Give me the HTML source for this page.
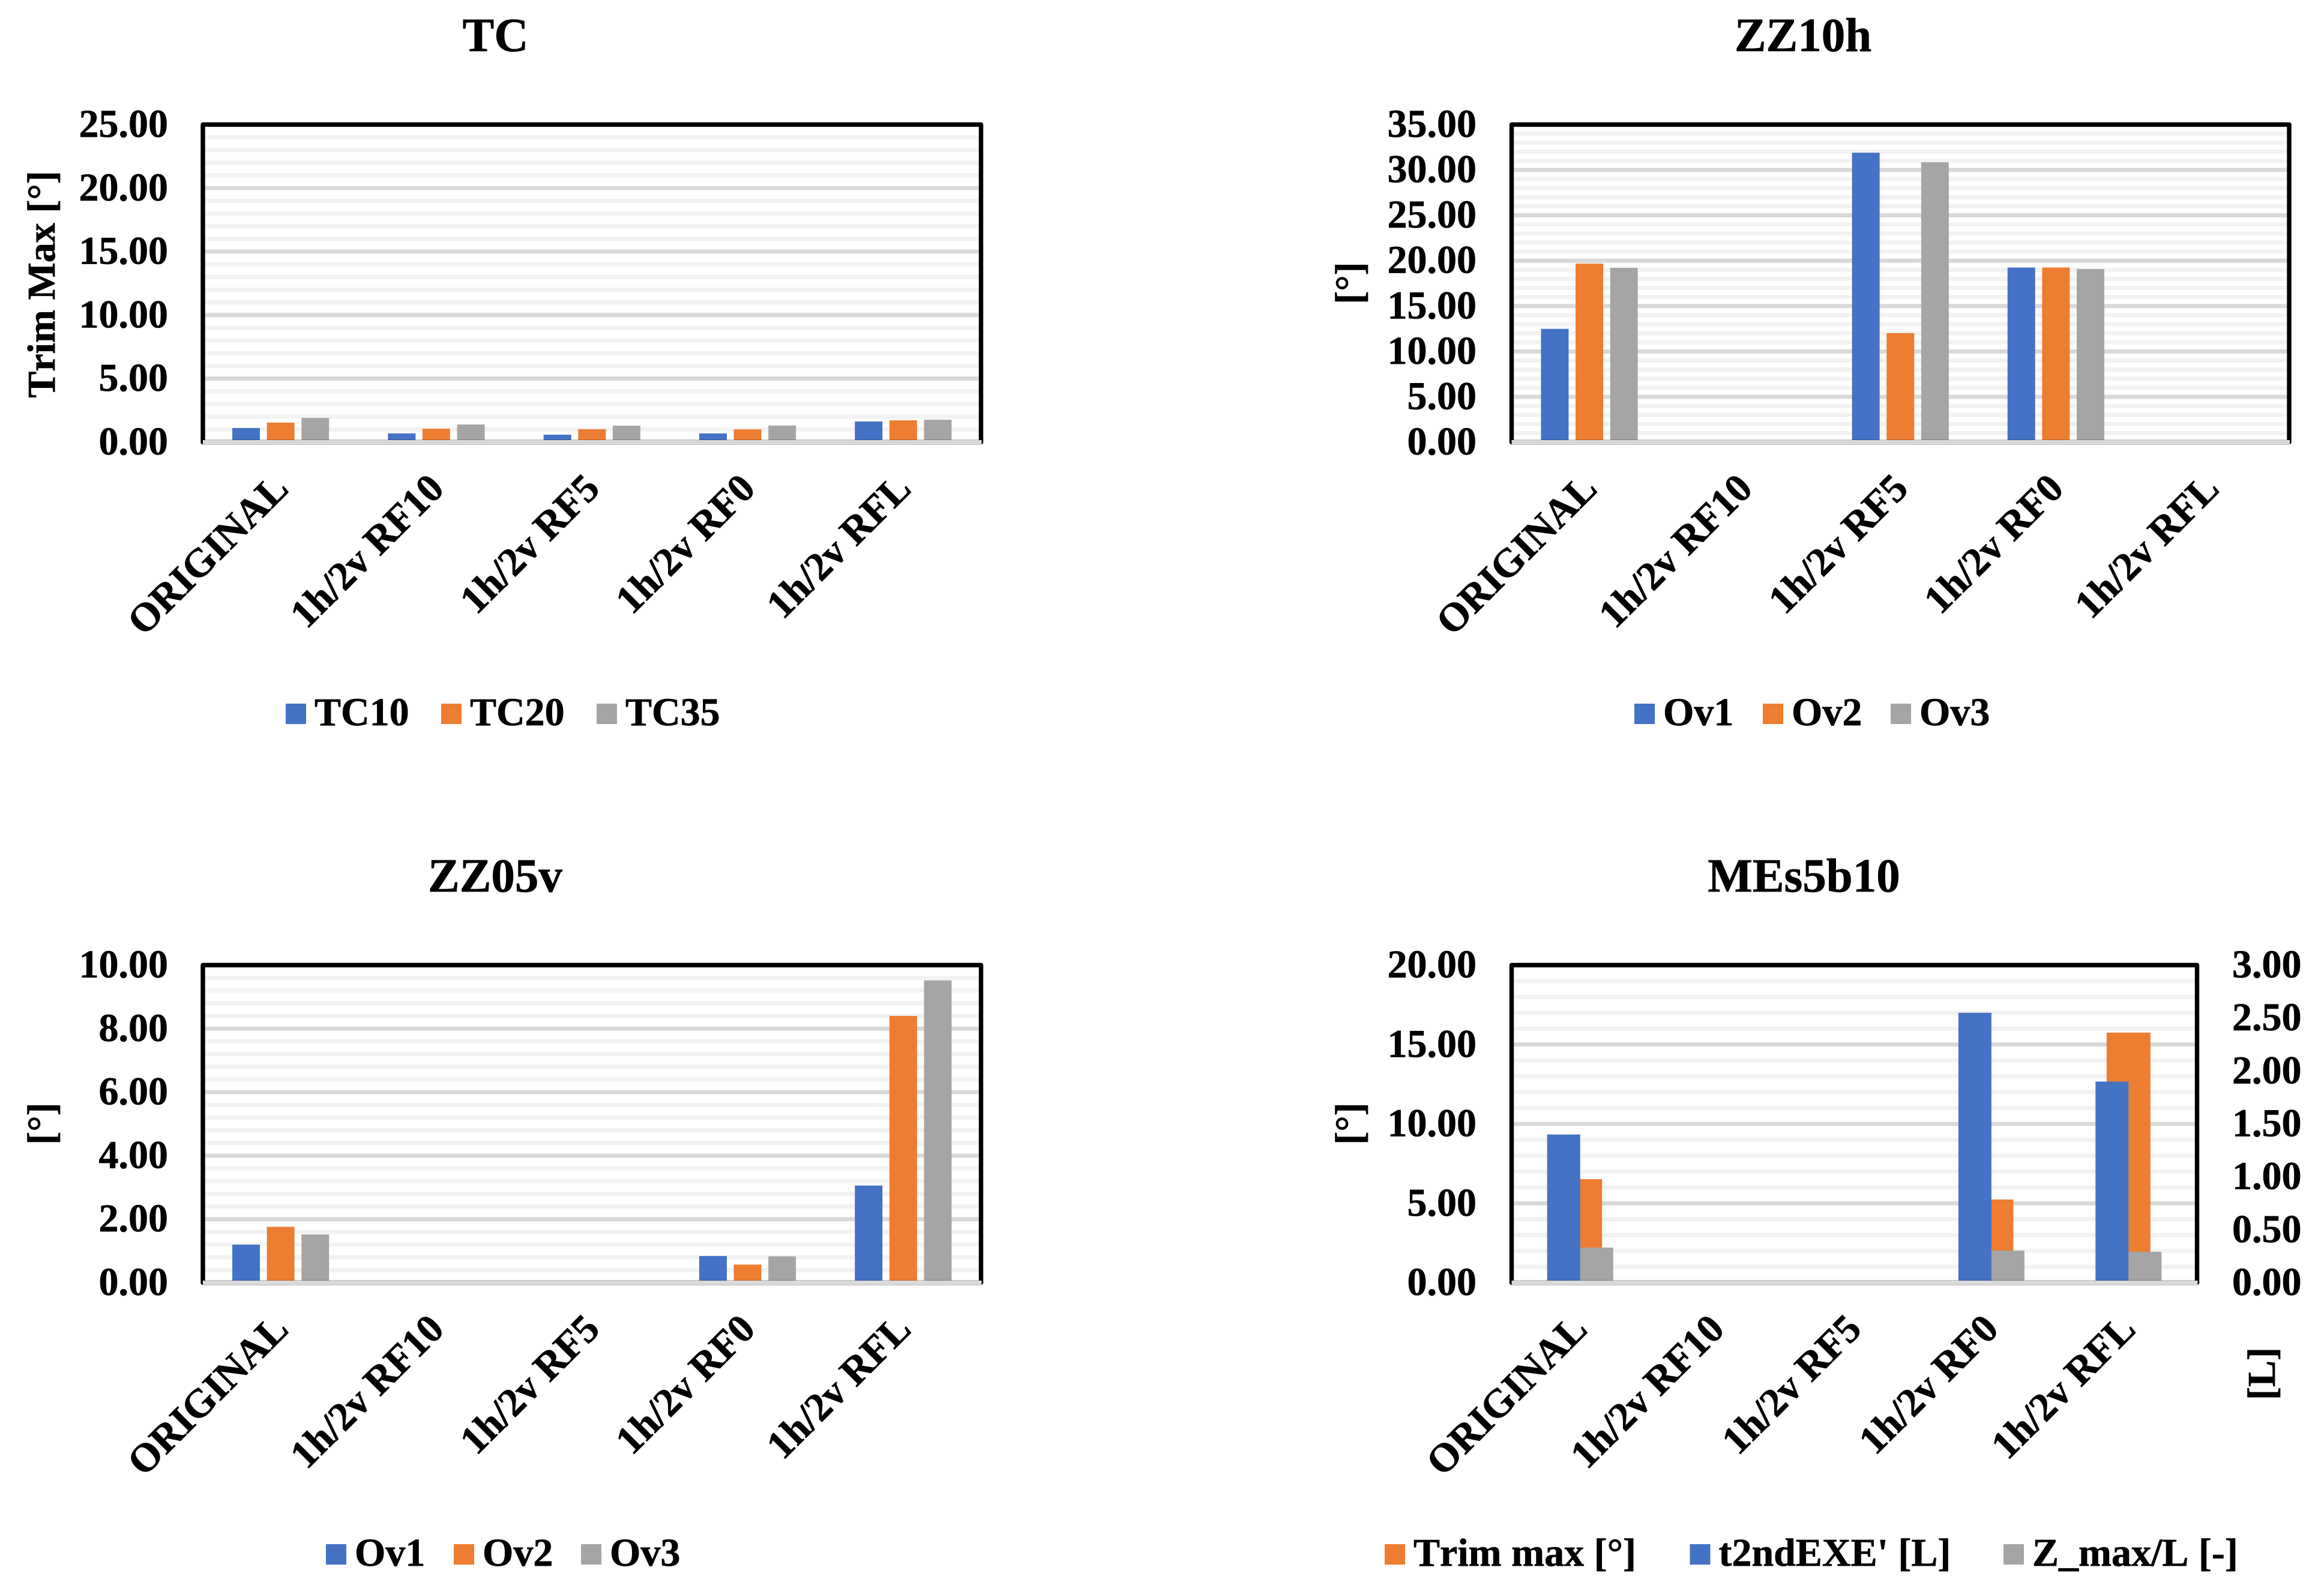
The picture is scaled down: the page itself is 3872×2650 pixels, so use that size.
<!DOCTYPE html>
<html lang="en">
<head>
<meta charset="utf-8">
<title>Trim comparison charts</title>
<style>
  html, body { margin: 0; padding: 0; background: #ffffff; }
  #figure { display: block; width: 3872px; height: 2650px; }
  text { font-family: "Liberation Serif", "Times New Roman", serif; font-weight: bold; fill: #000000; stroke: #000000; stroke-width: 0.7px; font-kerning: none; }
</style>
</head>
<body>
<svg id="figure" xmlns="http://www.w3.org/2000/svg" width="3872" height="2650" viewBox="0 0 3872 2650"></svg>
<script>
// ---------- Data ----------
const categories = ["ORIGINAL", "1h/2v RF10", "1h/2v RF5", "1h/2v RF0", "1h/2v RFL"];

const tc10 = [1.11, 0.69, 0.59, 0.69, 1.63];
const tc20 = [1.54, 1.06, 1.02, 1.01, 1.72];
const tc35 = [1.91, 1.39, 1.30, 1.31, 1.77];
const tcTicks = ["0.00", "5.00", "10.00", "15.00", "20.00", "25.00"];

const zz10hOv1 = [12.49, null, 31.90, 19.25, null];
const zz10hOv2 = [19.68, null, 12.02, 19.25, null];
const zz10hOv3 = [19.22, null, 30.85, 19.08, null];
const zz10hTicks = ["0.00", "5.00", "10.00", "15.00", "20.00", "25.00", "30.00", "35.00"];

const zz05vOv1 = [1.20, null, null, 0.84, 3.06];
const zz05vOv2 = [1.76, null, null, 0.57, 8.40];
const zz05vOv3 = [1.52, null, null, 0.83, 9.52];
const zz05vTicks = ["0.00", "2.00", "4.00", "6.00", "8.00", "10.00"];

const mesTrimMax = [6.52, null, null, 5.24, 15.75];
const mesT2ndExe = [1.40, null, null, 2.55, 1.90];
const mesZMax = [0.332, null, null, 0.303, 0.292];
const mesLeftTicks = ["0.00", "5.00", "10.00", "15.00", "20.00"];
const mesRightTicks = ["0.00", "0.50", "1.00", "1.50", "2.00", "2.50", "3.00"];

// ---------- Styling and layout ----------
const BLUE = "#4472c4", ORANGE = "#ed7d31", GREY = "#a5a5a5";
const FONT = 66, CATEGORY_FONT = 66.8, TITLE_FONT = 79, MINORS_PER_MAJOR = 5;

const charts = [
  {
    id: "tc", title: "TC", titleX: 825.5, dy: 0,
    left: 338, right: 1634.5, tickEnd: 280, yTitle: "Trim Max [°]", yTitleX: 91, yTitleY: 473.5,
    ticks: tcTicks, labelOffset: 16, legendStep: 48,
    series: [
      { name: "TC10", values: tc10, color: BLUE, width: 46, offset: -57.6, legendX: 476 },
      { name: "TC20", values: tc20, color: ORANGE, width: 46, offset: 0, legendX: 735 },
      { name: "TC35", values: tc35, color: GREY, width: 46, offset: 57.6, legendX: 994 }
    ]
  },
  {
    id: "zz10h", title: "ZZ10h", titleX: 3004, dy: 0,
    left: 2518.5, right: 3814, tickEnd: 2460, yTitle: "[°]", yTitleX: 2270, yTitleY: 471.5,
    ticks: zz10hTicks, labelOffset: 16, legendStep: 48,
    series: [
      { name: "Ov1", values: zz10hOv1, color: BLUE, width: 46, offset: -57.6, legendX: 2723 },
      { name: "Ov2", values: zz10hOv2, color: ORANGE, width: 46, offset: 0, legendX: 2937 },
      { name: "Ov3", values: zz10hOv3, color: GREY, width: 46, offset: 57.6, legendX: 3150 }
    ]
  },
  {
    id: "zz05v", title: "ZZ05v", titleX: 825, dy: 1400,
    left: 338, right: 1634.5, tickEnd: 280, yTitle: "[°]", yTitleX: 91, yTitleY: 471.5,
    ticks: zz05vTicks, labelOffset: 16, legendStep: 48,
    series: [
      { name: "Ov1", values: zz05vOv1, color: BLUE, width: 46, offset: -57.6, legendX: 543 },
      { name: "Ov2", values: zz05vOv2, color: ORANGE, width: 46, offset: 0, legendX: 756 },
      { name: "Ov3", values: zz05vOv3, color: GREY, width: 46, offset: 57.6, legendX: 968 }
    ]
  },
  {
    id: "mes5b10", title: "MEs5b10", titleX: 3005.5, dy: 1400,
    left: 2518.5, right: 3660.5, tickEnd: 2460, yTitle: "[°]", yTitleX: 2270, yTitleY: 471.5,
    ticks: mesLeftTicks, labelOffset: 15, legendStep: 48,
    rightTicks: mesRightTicks, rightTickStart: 3719, rightTitle: "[L]", rightTitleX: 3790, rightTitleY: 888,
    series: [
      { name: "Trim max [°]", values: mesTrimMax, color: ORANGE, width: 73, offset: 0, legendX: 2307 },
      { name: "t2ndEXE' [L]", values: mesT2ndExe, color: BLUE, width: 55, offset: -27.5, axis: "right", legendX: 2815.5 },
      { name: "Z_max/L [-]", values: mesZMax, color: GREY, width: 55, offset: 27.5, axis: "right", legendX: 3338 }
    ]
  }
];

const PLOT_TOP = 207.5, PLOT_BOTTOM = 736.5;
const svg = document.getElementById("figure");
const SVG_NS = "http://www.w3.org/2000/svg";

function make(parent, tag, attrs, content) {
  const node = document.createElementNS(SVG_NS, tag);
  for (const key in attrs) node.setAttribute(key, attrs[key]);
  if (content !== undefined) node.textContent = content;
  parent.appendChild(node);
  return node;
}

function linearAxis(maxValue, bottom, top) {
  return function (value) { return bottom - (value / maxValue) * (bottom - top); };
}

function renderChart(chart) {
  const top = PLOT_TOP + chart.dy;
  const bottom = PLOT_BOTTOM + chart.dy;
  const plotWidth = chart.right - chart.left;
  const catWidth = plotWidth / categories.length;
  const catX = function (i) { return chart.left + catWidth * (i + 0.5); };

  const leftValues = chart.ticks.map(parseFloat);
  const leftMax = Math.max.apply(null, leftValues);
  const leftMajor = leftValues[1] - leftValues[0];
  const yLeft = linearAxis(leftMax, bottom, top);
  const rightValues = chart.rightTicks ? chart.rightTicks.map(parseFloat) : null;
  const yRight = rightValues ? linearAxis(Math.max.apply(null, rightValues), bottom, top) : null;

  const group = make(svg, "g", {});
  
  

  const title = make(group, "text", { x: chart.titleX, y: 85 + chart.dy, "text-anchor": "middle", "font-size": TITLE_FONT }, chart.title);
  
  

  // Gridlines
  const minorStep = leftMajor / MINORS_PER_MAJOR;
  const gridCount = Math.round(leftMax / minorStep);
  for (let i = 1; i < gridCount; i++) {
    const isMajor = i % MINORS_PER_MAJOR === 0;
    const y = yLeft(i * minorStep);
    const line = make(group, "rect", {
      x: chart.left, y: y - 3.5, width: plotWidth, height: 7,
      fill: isMajor ? "#d9d9d9" : "#f2f2f2"
    });
    
    
  }

  // Bars
  chart.series.forEach(function (series) {
    const yScale = series.axis === "right" ? yRight : yLeft;
    series.values.forEach(function (value, i) {
      if (value === null) return;
      const y = yScale(value);
      const bar = make(group, "rect", {
        x: catX(i) + series.offset - series.width / 2, y: y,
        width: series.width, height: bottom - y, fill: series.color
      });
      
      
    });
  });

  // Plot frame and category axis
  const frame = make(group, "rect", {
    x: chart.left, y: top, width: plotWidth, height: bottom - top,
    fill: "none", stroke: "#000000", "stroke-width": 7.4, "stroke-linejoin": "round"
  });
  
  

  const axisLine = make(group, "rect", {
    x: chart.left, y: bottom - 3.5, width: plotWidth + 1, height: 7, fill: "#d9d9d9"
  });
  
  

  // Left ticks
  chart.ticks.forEach(function (label) {
    const tick = make(group, "text", {
      x: chart.tickEnd, y: yLeft(parseFloat(label)) + 20.5, "text-anchor": "end", "font-size": FONT
    }, label);
    
    
  });

  // Right ticks
  if (chart.rightTicks) {
    chart.rightTicks.forEach(function (label) {
      const tick = make(group, "text", {
        x: chart.rightTickStart, y: yRight(parseFloat(label)) + 20.5, "font-size": FONT
      }, label);
      
      
    });
    const rx = chart.rightTitleX, ry = chart.rightTitleY + chart.dy;
    const rightTitle = make(group, "text", {
      x: rx, y: ry, "text-anchor": "middle", "font-size": FONT,
      transform: "rotate(-90 " + rx + " " + ry + ")"
    }, chart.rightTitle);
    
    
  }

  // Left axis title
  const tx = chart.yTitleX, ty = chart.yTitleY + chart.dy;
  const yTitle = make(group, "text", {
    x: tx, y: ty, "text-anchor": "middle", "font-size": FONT,
    transform: "rotate(-90 " + tx + " " + ty + ")"
  }, chart.yTitle);
  
  

  // Category labels
  categories.forEach(function (name, i) {
    const lx = catX(i) + chart.labelOffset, ly = 817 + chart.dy;
    const label = make(group, "text", {
      x: lx, y: ly, "text-anchor": "end", "font-size": CATEGORY_FONT,
      transform: "rotate(-45 " + lx + " " + ly + ")"
    }, name);
    
    
  });

  // Legend
  chart.series.forEach(function (series) {
    const swatch = make(group, "rect", {
      x: series.legendX, y: 1172 + chart.dy, width: 34, height: 34, fill: series.color
    });
    
    
    const entry = make(group, "text", {
      x: series.legendX + chart.legendStep, y: 1208 + chart.dy, "font-size": FONT
    }, series.name);
    
    
  });
}

charts.forEach(renderChart);
</script>
</body>
</html>
